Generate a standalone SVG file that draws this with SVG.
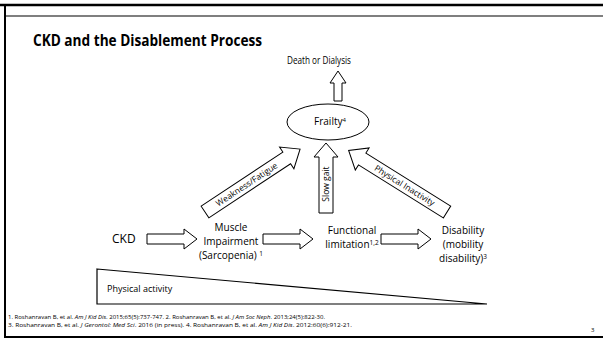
<svg xmlns="http://www.w3.org/2000/svg" width="603" height="341" viewBox="0 0 603 341">
<style>
text{font-family:"Open Sans","Liberation Sans",sans-serif;fill:#000}
.lbl{font-size:10px;text-anchor:middle}
.blk{fill:#fff;stroke:#000;stroke-width:1}
.in{font-size:8.5px;text-anchor:middle}
.fn{font-size:6px}
</style>
<rect width="603" height="341" fill="#fff"/>
<g id="frame" stroke="#000" fill="none">
<line x1="0" y1="5" x2="603" y2="5" stroke-width="2.5"/>
<line x1="5" y1="16" x2="603" y2="16" stroke-width="1.2"/>
<line x1="5" y1="4" x2="5" y2="338" stroke-width="2"/>
<line x1="4" y1="337" x2="603" y2="337" stroke-width="2"/>
</g>
<text x="33" y="46" font-size="16" font-weight="bold" textLength="229" lengthAdjust="spacingAndGlyphs">CKD and the Disablement Process</text>
<g id="death"><text class="lbl" x="319" y="64" font-size="8.5" textLength="64" lengthAdjust="spacingAndGlyphs">Death or Dialysis</text></g>
<g id="frailty">
<ellipse cx="328" cy="122" rx="41" ry="18" class="blk"/>
<text class="lbl" x="330" y="125" font-size="9">Frailty<tspan font-size="6" dy="-3">4</tspan></text>
</g>
<g id="ckd"><text x="112" y="243" font-size="12">CKD</text></g>
<g id="muscle"><text class="lbl" x="231" y="231">Muscle</text><text class="lbl" x="231" y="245">Impairment</text><text class="lbl" x="231" y="259">(Sarcopenia) <tspan font-size="6.5" dy="-3">1</tspan></text></g>
<g id="functional"><text class="lbl" x="352" y="234">Functional</text><text class="lbl" x="352" y="248">limitation<tspan font-size="6.5" dy="-3">1,2</tspan></text></g>
<g id="disability"><text class="lbl" x="463" y="234">Disability</text><text class="lbl" x="463" y="248">(mobility</text><text class="lbl" x="463" y="262">disability)<tspan font-size="6.5" dy="-3">3</tspan></text></g>
<g id="connectors">
<polygon class="blk" points="334,101 334,83 330,83 338,71 346,83 342,83 342,101"/>
<polygon class="blk" points="147,234 184,234 184,229 197,239 184,249 184,244 147,244"/>
<polygon class="blk" points="263,234 300,234 300,229 313,239 300,249 300,244 263,244"/>
<polygon class="blk" points="381,234 418,234 418,229 431,239 418,249 418,244 381,244"/>
<g transform="translate(205,212) rotate(-33.5)">
<polygon class="blk" points="0,-7 98,-7 98,-13 114,0 98,13 98,7 0,7"/>
<text class="in" x="50" y="3">Weakness/Fatigue</text>
</g>
<g transform="translate(326,213) rotate(-90)">
<polygon class="blk" points="0,-7 56,-7 56,-12 70,0 56,12 56,7 0,7"/>
<text class="in" x="29" y="3">Slow gait</text>
</g>
<g transform="translate(447,212) rotate(-148)">
<polygon class="blk" points="0,-7 100,-7 100,-13 116,0 100,13 100,7 0,7"/>
</g>
<text class="in" transform="translate(404.6,185.5) rotate(32)" x="0" y="3">Physical Inactivity</text>
</g>
<g id="activity">
<polygon points="97,269 487,304 97,304" fill="#fff" stroke="#000" stroke-width="1.2"/>
<text x="107" y="292" font-size="9">Physical activity</text>
</g>
<g id="footnotes">
<text class="fn" x="8" y="319" textLength="317" lengthAdjust="spacingAndGlyphs">1. Roshanravan B, et al. <tspan font-style="italic">Am J Kid Dis</tspan>. 2015;65(5):737-747. 2. Roshanravan B, et al. <tspan font-style="italic">J Am Soc Neph</tspan>. 2013;24(5):822-30.</text>
<text class="fn" x="8" y="327" textLength="344" lengthAdjust="spacingAndGlyphs">3. Roshanravan B, et al. <tspan font-style="italic">J Gerontol: Med Sci</tspan>. 2016 (in press). 4. Roshanravan B, et al. <tspan font-style="italic">Am J Kid Dis</tspan>. 2012:60(6):912-21.</text>
<text class="fn" x="591" y="332">3</text>
</g>
</svg>
